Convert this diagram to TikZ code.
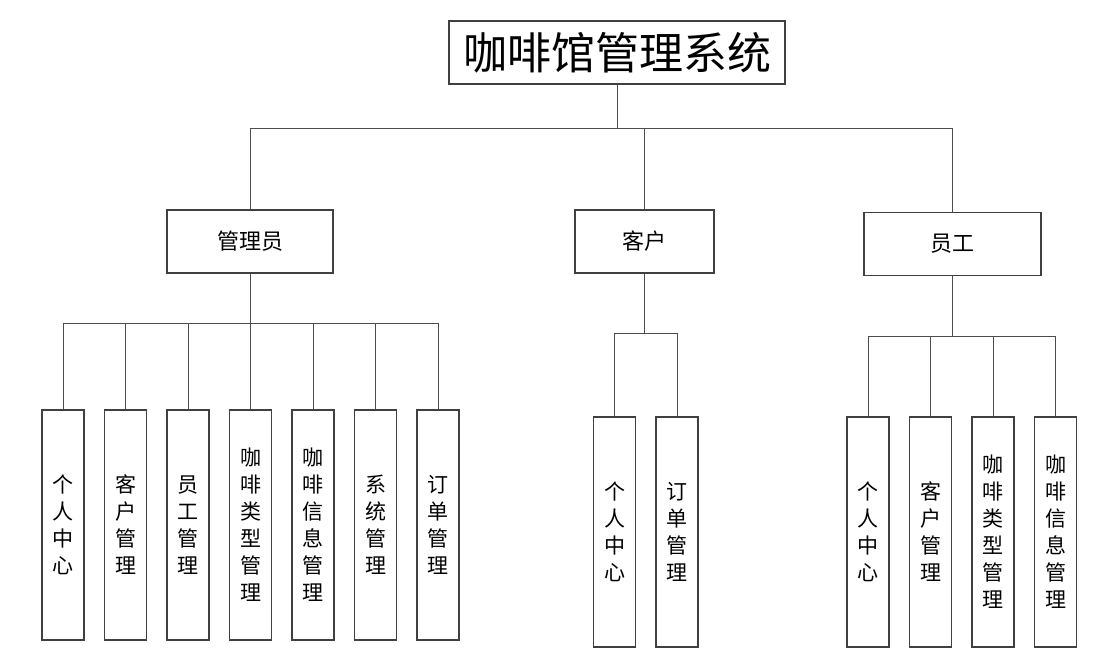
\documentclass[tikz,border=0pt]{standalone}
\usepackage{fontspec}
\setmainfont{Noto Sans CJK SC}
\usetikzlibrary{positioning}

\begin{document}
\begin{tikzpicture}[
  x=1pt, y=-1pt,
  node distance=19.3pt,
  sysbox/.style={draw=black!75, line width=1.2pt, fill=white, minimum width=336pt, minimum height=63pt, inner sep=0pt, font=\fontsize{44}{48}\selectfont},
  rolebox/.style={draw=black!75, line width=1.2pt, fill=white, minimum height=63pt, inner sep=0pt, font=\fontsize{22}{26}\selectfont},
  funcbox/.style={draw=black!75, line width=1.2pt, fill=white, minimum width=42pt, minimum height=230pt, inner sep=0pt, align=center, font=\fontsize{21}{27}\selectfont},
  link/.style={draw=black!70, line width=1pt}
]
\useasboundingbox (0,0) rectangle (1120,665);

% Top: system and roles
\node[sysbox] (root) at (617,52.5) {咖啡馆管理系统};
\node[rolebox, minimum width=166pt] (mgr) at (250,241.5) {管理员};
\node[rolebox, minimum width=139pt] (cus) at (644.5,241.5) {客户};
\node[rolebox, minimum width=177pt] (emp) at (952.5,244) {员工};

% Admin functions
\node[funcbox] (m1) at (63,525) {个\\人\\中\\心};
\node[funcbox, right=of m1] (m2) {客\\户\\管\\理};
\node[funcbox, right=of m2] (m3) {员\\工\\管\\理};
\node[funcbox, right=of m3] (m4) {咖\\啡\\类\\型\\管\\理};
\node[funcbox, right=of m4] (m5) {咖\\啡\\信\\息\\管\\理};
\node[funcbox, right=of m5] (m6) {系\\统\\管\\理};
\node[funcbox, right=of m6] (m7) {订\\单\\管\\理};

% Customer functions
\node[funcbox] (c1) at (614.5,532) {个\\人\\中\\心};
\node[funcbox, right=of c1] (c2) {订\\单\\管\\理};

% Staff functions
\node[funcbox] (e1) at (868,532) {个\\人\\中\\心};
\node[funcbox, right=of e1] (e2) {客\\户\\管\\理};
\node[funcbox, right=of e2] (e3) {咖\\啡\\类\\型\\管\\理};
\node[funcbox, right=of e3] (e4) {咖\\啡\\信\\息\\管\\理};

% Bus points
\coordinate (rbus) at (617,128);
\coordinate (mbus) at (250,323);
\coordinate (cbus) at (644.5,333);
\coordinate (ebus) at (952.5,336);

% Connectors
\draw[link] (root) -- (rbus);
\draw[link] (mgr.north) |- (rbus);
\draw[link] (emp.north) |- (rbus);
\draw[link] (cus.north) -- (cus.north |- rbus);

\draw[link] (mgr) -- (mbus);
\foreach \i in {1,...,7}
  \draw[link] (m\i.north) |- (mbus);

\draw[link] (cus) -- (cbus);
\foreach \i in {1,2}
  \draw[link] (c\i.north) |- (cbus);

\draw[link] (emp) -- (ebus);
\foreach \i in {1,...,4}
  \draw[link] (e\i.north) |- (ebus);
\end{tikzpicture}
\end{document}
